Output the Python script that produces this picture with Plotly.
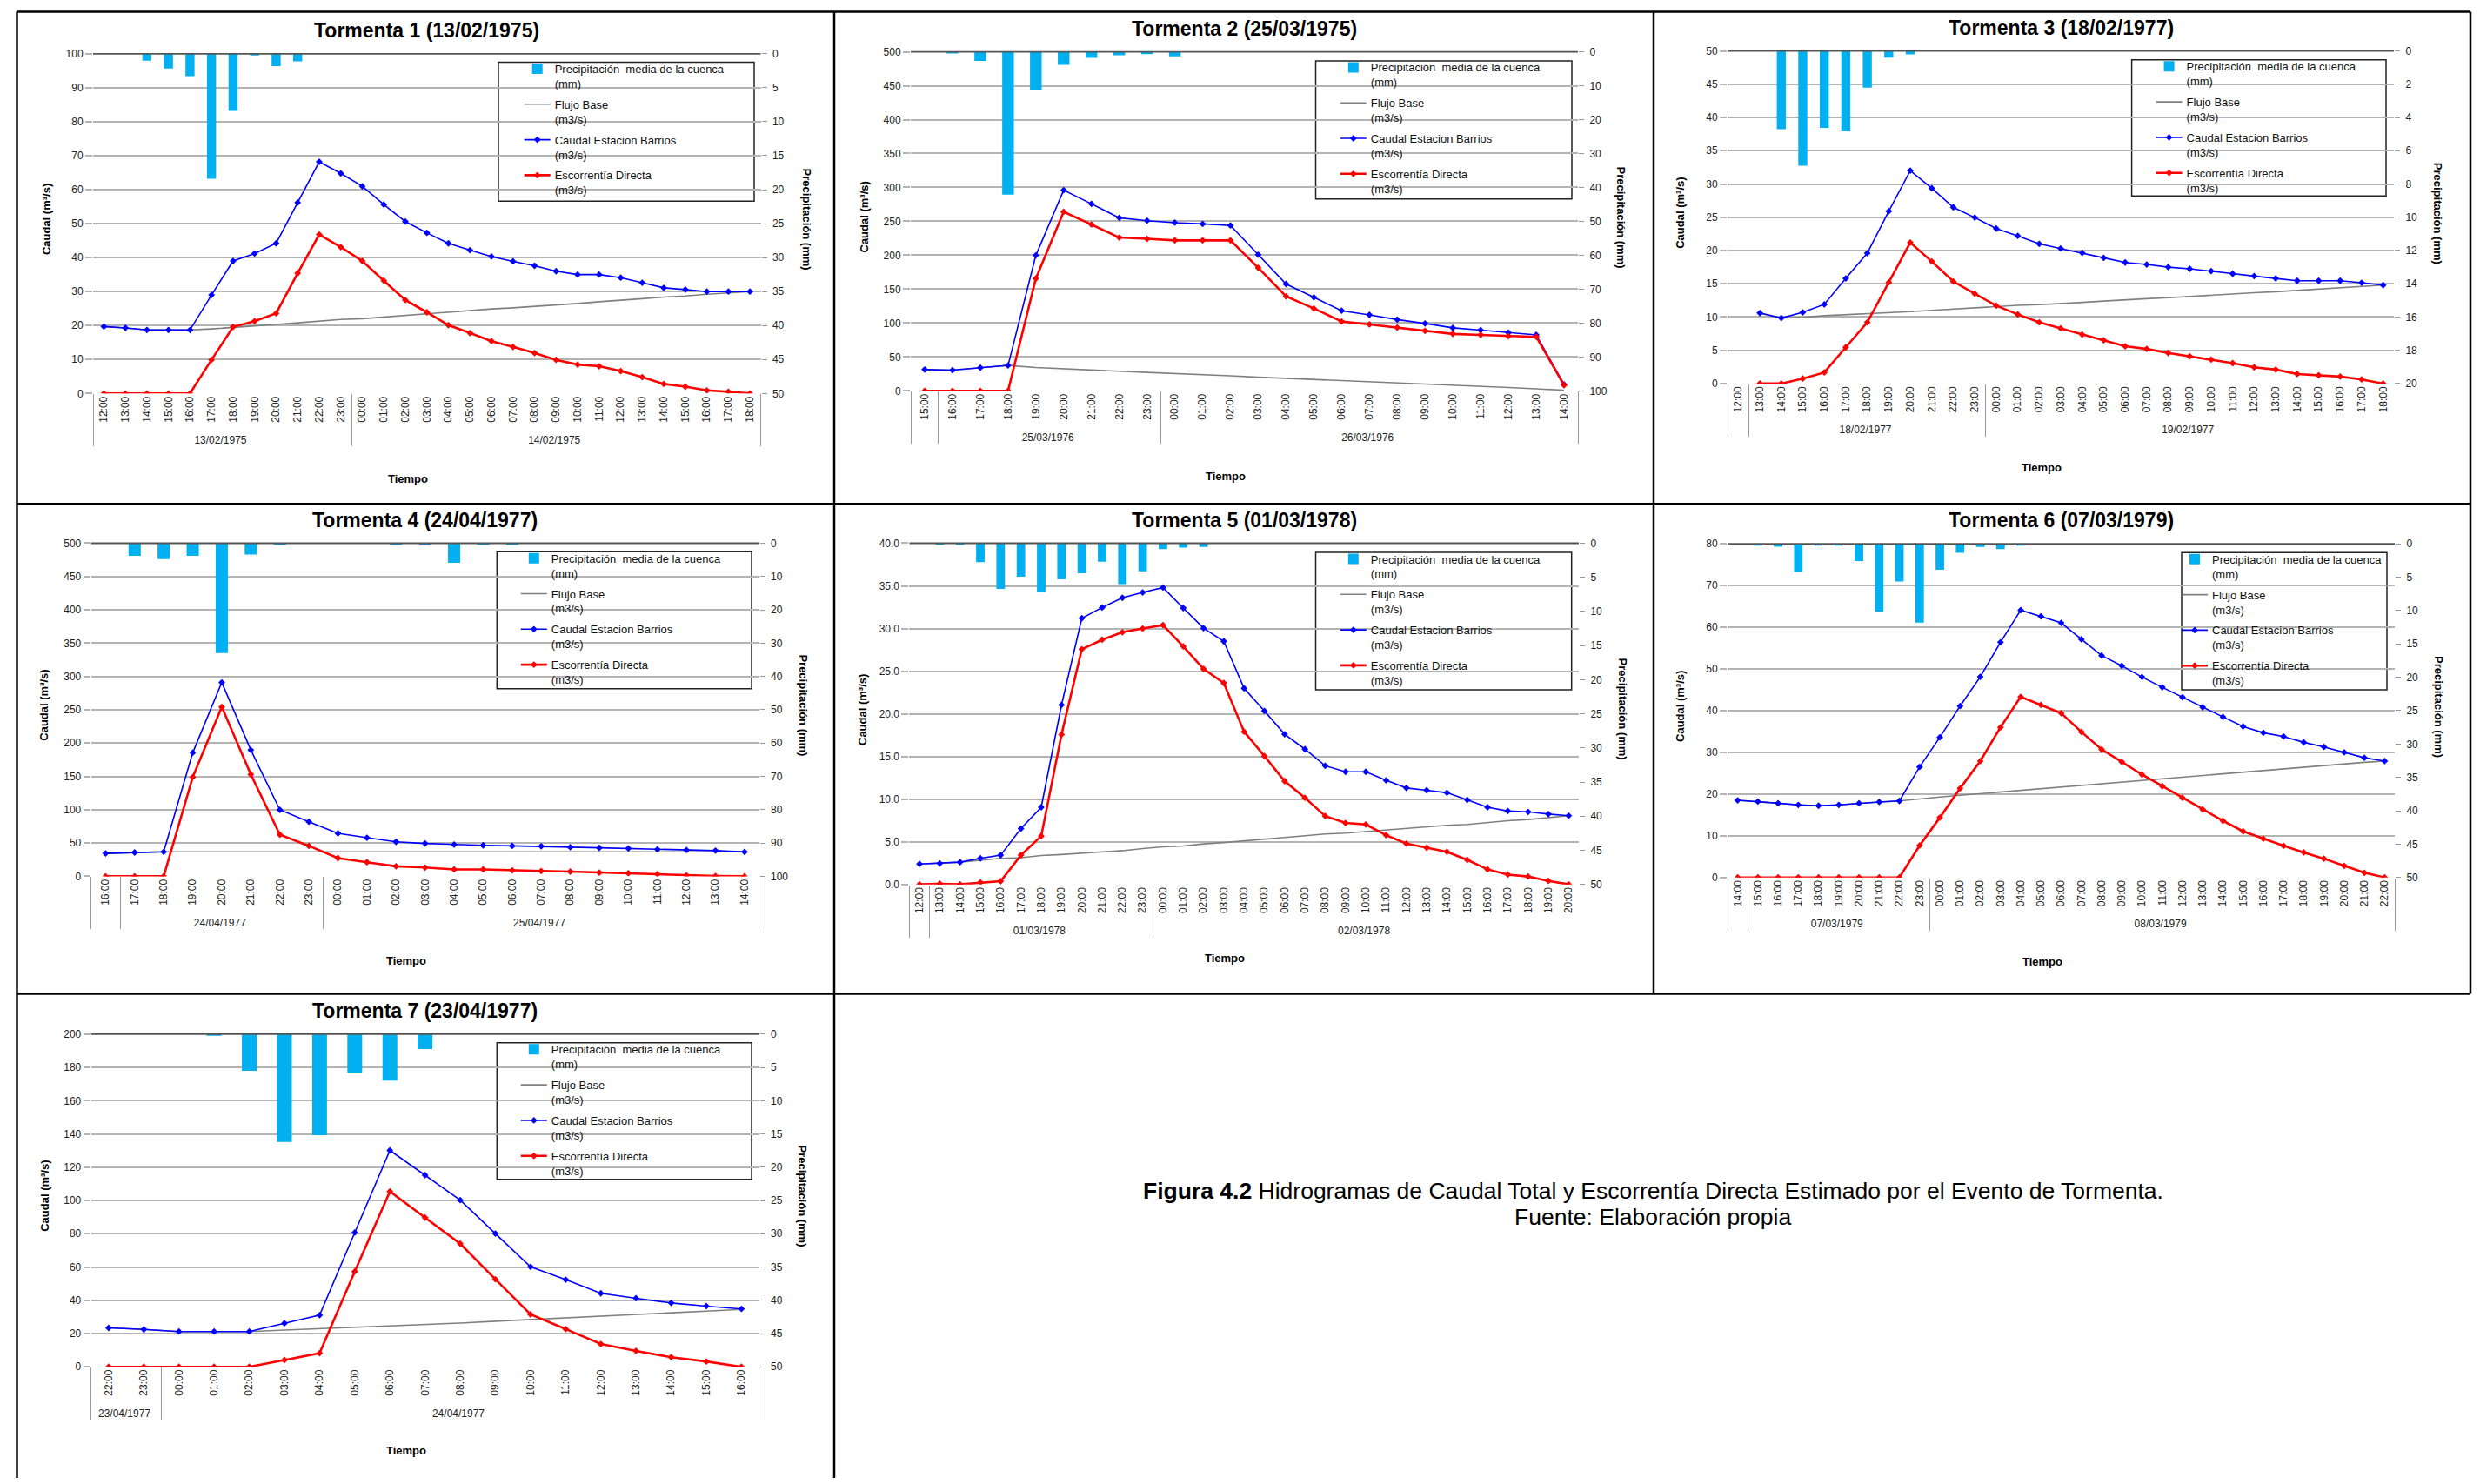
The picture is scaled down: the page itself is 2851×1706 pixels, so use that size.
import plotly.graph_objects as go

W, H = 2851, 1706

# ---------------- data ----------------
HOURS = ["00:00", "01:00", "02:00", "03:00", "04:00", "05:00", "06:00", "07:00",
         "08:00", "09:00", "10:00", "11:00", "12:00", "13:00", "14:00", "15:00",
         "16:00", "17:00", "18:00", "19:00", "20:00", "21:00", "22:00", "23:00"]

LEG_NAMES = ["Precipitación\u00a0 media de la cuenca<br>(mm)", "Flujo Base<br>(m3/s)",
             "Caudal Estacion Barrios<br>(m3/s)", "Escorrentía Directa<br>(m3/s)"]

# Tormenta 1
T1_title = "Tormenta 1 (13/02/1975)"
T1_groups = [("13/02/1975", HOURS[12:24]), ("14/02/1975", HOURS[0:19])]
T1_precip = [0, 0, 1.0, 2.15, 3.3, 18.4, 8.4, 0.2, 1.8, 1.1, 0, 0,
             0, 0, 0, 0, 0, 0, 0, 0, 0, 0, 0, 0, 0, 0, 0, 0, 0, 0, 0]
T1_caudal = [19.7, 19.3, 18.7, 18.7, 18.7, 29.0, 39.0, 41.2, 44.2, 56.2, 68.2, 64.8,
             61.0, 55.6, 50.6, 47.3, 44.2, 42.2, 40.3, 38.9, 37.6, 36.0, 35.0, 35.0,
             34.1, 32.6, 31.1, 30.6, 30.0, 30.0, 30.0]
T1_escor = [0, 0, 0, 0, 0, 9.9, 19.6, 21.3, 23.6, 35.4, 46.8, 43.1,
            39.0, 33.2, 27.5, 23.9, 20.1, 17.8, 15.4, 13.7, 11.9, 9.9, 8.5, 8.0,
            6.6, 4.8, 2.8, 2.0, 0.9, 0.5, 0]
T1_base = [19.7, 19.3, 18.7, 18.7, 18.7, 19.0, 19.4, 19.8, 20.3, 20.8, 21.3, 21.8,
           22.0, 22.5, 23.0, 23.5, 24.0, 24.4, 24.9, 25.2, 25.6, 26.1, 26.5, 27.0,
           27.4, 27.9, 28.4, 28.7, 29.2, 29.6, 30.0]
T1_axes = (100, 10, 50, 5, "")

# Tormenta 2
T2_title = "Tormenta 2 (25/03/1975)"
T2_groups = [(" ", HOURS[15:16]), ("25/03/1976", HOURS[16:24]), ("26/03/1976", HOURS[0:15])]
T2_precip = [0, 0.4, 2.7, 42.1, 11.4, 3.8, 1.8, 1.0, 0.7,
             1.3, 0, 0, 0, 0, 0, 0, 0, 0, 0, 0, 0, 0, 0, 0]
T2_caudal = [31.4, 30.5, 34.2, 37.5, 199.8, 296.0, 275.8, 255.2, 251.0,
             248.1, 246.2, 243.9, 200.8, 157.6, 137.9, 118.2, 112.1, 105.1, 99.4,
             92.9, 89.6, 85.8, 82.6, 9.4]
T2_escor = [0, 0, 0, 0, 165.6, 264.1, 245.3, 226.1, 224.2,
            221.9, 221.9, 221.9, 181.5, 139.3, 121.5, 102.3, 98.0, 93.3, 88.6,
            84.0, 82.6, 80.7, 79.7, 8.4]
T2_base = [31.4, 30.5, 34.2, 37.5, 34.5, 32.4, 30.5, 28.9, 27.2,
           25.8, 24.3, 22.2, 20.2, 18.5, 16.9, 15.5, 13.8, 12.2, 10.6,
           9.0, 6.9, 5.0, 2.9, 1.0]
T2_axes = (500, 50, 100, 10, "")

# Tormenta 3
T3_title = "Tormenta 3 (18/02/1977)"
T3_groups = [(" ", HOURS[12:13]), ("18/02/1977", HOURS[13:24]), ("19/02/1977", HOURS[0:19])]
T3_precip = [0, 0, 4.7, 6.9, 4.63, 4.84, 2.2, 0.4, 0.21, 0, 0, 0,
             0, 0, 0, 0, 0, 0, 0, 0, 0, 0, 0, 0, 0, 0, 0, 0, 0, 0, 0]
T3_caudal = [None, 10.6, 9.85, 10.7, 11.9, 15.8, 19.6, 25.9, 32.0, 29.35, 26.5, 24.95,
             23.3, 22.2, 21.0, 20.3, 19.65, 18.9, 18.2, 17.9, 17.5, 17.25, 16.9, 16.5,
             16.15, 15.8, 15.45, 15.45, 15.45, 15.15, 14.8]
T3_escor = [None, 0, 0, 0.75, 1.67, 5.45, 9.2, 15.2, 21.2, 18.35, 15.35, 13.5,
            11.7, 10.4, 9.2, 8.3, 7.35, 6.5, 5.6, 5.2, 4.6, 4.1, 3.6, 3.06,
            2.44, 2.1, 1.43, 1.24, 1.05, 0.62, 0]
T3_base = [None, None, 9.85, 9.95, 10.2, 10.35, 10.45, 10.65, 10.8, 11.0, 11.2, 11.4,
           11.6, 11.75, 11.85, 12.0, 12.2, 12.4, 12.6, 12.75, 12.9, 13.1, 13.3, 13.45,
           13.65, 13.8, 14.0, 14.15, 14.35, 14.55, 14.8]
T3_axes = (50, 5, 20, 2, "")

# Tormenta 4
T4_title = "Tormenta 4 (24/04/1977)"
T4_groups = [(" ", HOURS[16:17]), ("24/04/1977", HOURS[17:24]), ("25/04/1977", HOURS[0:15])]
T4_precip = [0, 3.8, 4.8, 3.8, 33.0, 3.4, 0.3, 0,
             0, 0, 0.3, 0.65, 5.9, 0.3, 0.3, 0, 0, 0, 0, 0, 0, 0, 0]
T4_caudal = [34.4, 35.8, 36.7, 185.5, 291.0, 189.7, 99.8, 81.9,
             64.5, 57.9, 51.8, 49.4, 47.6, 46.6, 45.7, 45.2, 43.8, 42.8, 41.9, 40.5,
             39.5, 38.6, 36.7]
T4_escor = [0, 0, 0, 148.8, 254.2, 153.0, 62.6, 45.7,
            27.3, 21.2, 15.1, 13.2, 10.4, 10.4, 8.9, 8.0, 7.1, 5.6, 4.7, 3.3,
            1.4, 0.5, 0]
T4_base = [34.4, 35.8, 36.7, 36.7, 36.7, 36.7, 36.7, 36.7,
           36.7, 36.7, 36.7, 36.7, 36.7, 36.7, 36.7, 36.7, 36.7, 36.7, 36.7, 36.7,
           36.7, 36.7, 36.7]
T4_axes = (500, 50, 100, 10, "")

# Tormenta 5
T5_title = "Tormenta 5 (01/03/1978)"
T5_groups = [(" ", HOURS[12:13]), ("01/03/1978", HOURS[13:24]), ("02/03/1978", HOURS[0:21])]
T5_precip = [0, 0.14, 0.14, 2.76, 6.7, 4.9, 7.1, 5.3, 4.4, 2.7, 6.0, 4.1,
             0.87, 0.64, 0.55, 0, 0, 0, 0, 0, 0, 0, 0, 0, 0, 0, 0, 0, 0, 0, 0, 0, 0]
T5_caudal = [2.39, 2.46, 2.6, 3.05, 3.42, 6.54, 9.04, 21.03, 31.2, 32.46, 33.6, 34.23,
             34.8, 32.4, 30.04, 28.5, 22.98, 20.33, 17.6, 15.85, 13.9, 13.2, 13.2,
             12.2, 11.3, 11.03, 10.74, 9.9, 9.04, 8.6, 8.5, 8.24, 8.05]
T5_escor = [0, 0.07, 0, 0.22, 0.37, 3.42, 5.66, 17.57, 27.57, 28.68, 29.56, 30.0,
            30.4, 27.9, 25.26, 23.6, 17.9, 15.04, 12.1, 10.15, 8.0, 7.2, 7.02,
            5.77, 4.78, 4.3, 3.82, 2.87, 1.76, 1.14, 0.92, 0.4, 0]
T5_base = [2.39, 2.46, 2.6, 2.83, 3.05, 3.12, 3.38, 3.5, 3.63, 3.78, 3.95, 4.2,
           4.4, 4.5, 4.75, 4.9, 5.08, 5.3, 5.5, 5.7, 5.9, 6.0, 6.18,
           6.4, 6.52, 6.73, 6.92, 7.03, 7.28, 7.46, 7.6, 7.84, 8.05]
T5_axes = (40, 5, 50, 5, ".1f")

# Tormenta 6
T6_title = "Tormenta 6 (07/03/1979)"
T6_groups = [(" ", HOURS[14:15]), ("07/03/1979", HOURS[15:24]), ("08/03/1979", HOURS[0:23])]
T6_precip = [0, 0.23, 0.42, 4.2, 0.14, 0.23, 2.58, 10.2, 5.64, 11.8,
             3.9, 1.36, 0.47, 0.8, 0.14, 0, 0, 0, 0, 0, 0, 0, 0, 0, 0, 0, 0, 0, 0, 0, 0, 0, 0]
T6_caudal = [18.5, 18.2, 17.8, 17.4, 17.2, 17.4, 17.8, 18.1, 18.35, 26.5,
             33.6, 41.1, 48.1, 56.4, 64.1, 62.6, 61.05, 57.1, 53.2, 50.75, 48.05, 45.6,
             43.2, 40.8, 38.5, 36.2, 34.7, 33.8, 32.4, 31.3, 30.0, 28.7, 27.9]
T6_escor = [0, 0, 0, 0, 0, 0, 0, 0, 0, 7.67,
            14.36, 21.35, 27.9, 36.0, 43.3, 41.35, 39.4, 34.9, 30.7, 27.7, 24.66, 21.9,
            19.1, 16.3, 13.6, 11.05, 9.3, 7.6, 6.0, 4.5, 2.8, 1.13, 0]
T6_base = [18.5, 18.2, 17.8, 17.4, 17.2, 17.4, 17.8, 18.1, 18.35, 18.9,
           19.3, 19.7, 20.1, 20.5, 20.9, 21.3, 21.6, 22.0, 22.4, 22.8, 23.3, 23.7,
           24.1, 24.5, 24.8, 25.2, 25.6, 26.0, 26.4, 26.8, 27.2, 27.6, 27.9]
T6_axes = (80, 10, 50, 5, "")

# Tormenta 7
T7_title = "Tormenta 7 (23/04/1977)"
T7_groups = [("23/04/1977", HOURS[22:24]), ("24/04/1977", HOURS[0:17])]
T7_precip = [0, 0, 0, 0.14, 5.5, 16.2, 15.2, 5.76, 7.0, 2.25,
             0, 0, 0, 0, 0, 0, 0, 0, 0]
T7_caudal = [23.4, 22.5, 21.2, 21.2, 21.2, 26.2, 31.1, 80.7, 130.1, 115.2,
             100.2, 80.1, 60.1, 52.4, 44.2, 41.2, 38.4, 36.5, 34.8]
T7_escor = [0, 0, 0, 0, 0, 4.1, 8.2, 57.3, 105.4, 89.7,
            74.0, 52.6, 31.5, 22.7, 13.7, 9.6, 5.8, 3.2, 0]
T7_base = [23.4, 22.5, 21.2, 21.2, 21.2, 22.1, 22.9, 23.8, 24.7, 25.5,
           26.3, 27.4, 28.5, 29.5, 30.4, 31.4, 32.5, 33.5, 34.5]
T7_axes = (200, 20, 50, 5, "")

CAPTION_BOLD = "Figura 4.2"
CAPTION_1 = " Hidrogramas de Caudal Total y Escorrentía Directa Estimado por el Evento de Tormenta."
CAPTION_2 = "Fuente: Elaboración propia"

STORMS = [
    (T1_title, T1_groups, T1_precip, T1_base, T1_caudal, T1_escor, T1_axes),
    (T2_title, T2_groups, T2_precip, T2_base, T2_caudal, T2_escor, T2_axes),
    (T3_title, T3_groups, T3_precip, T3_base, T3_caudal, T3_escor, T3_axes),
    (T4_title, T4_groups, T4_precip, T4_base, T4_caudal, T4_escor, T4_axes),
    (T5_title, T5_groups, T5_precip, T5_base, T5_caudal, T5_escor, T5_axes),
    (T6_title, T6_groups, T6_precip, T6_base, T6_caudal, T6_escor, T6_axes),
    (T7_title, T7_groups, T7_precip, T7_base, T7_caudal, T7_escor, T7_axes),
]

# ---------------- layout geometry (pixels) ----------------
PLOT_BOX = [  # left, right, top, bottom
    (107, 874.5, 55.3, 449),
    (1047, 1814, 53, 446),
    (1986, 2752, 52, 437.5),
    (104.7, 872.6, 622.6, 1008.7),
    (1045.4, 1815, 622.6, 1018),
    (1986, 2753, 623.3, 1010),
    (104.7, 872.6, 1191.6, 1577.2),
]
LEG_BOX = [
    (573, 867, 65, 226),
    (1512.5, 1807, 63.4, 223.7),
    (2450.6, 2743, 62.3, 220),
    (571.3, 864, 632.4, 791.3),
    (1512.5, 1806.7, 633.2, 792.4),
    (2508, 2744, 633.5, 792.4),
    (571.3, 864, 1201.7, 1359.9),
]
LEG_TXT_OFF = [64.7, 63.3, 63, 62.5, 63.3, 35, 62.5]
TIEMPO_XY = [(469, 548), (1409, 545), (2347, 534.5), (467, 1106.5),
             (1407.7, 1104), (2347.5, 1108), (466.6, 1674.3)]

FONT = "Liberation Sans, Arial, sans-serif"
GRID = "#B4B4B4"


def px(x):
    return x / W


def py(y):
    return 1 - y / H


fig = go.Figure()
annotations = []
shapes = []
layout = {}

for i, (title, groups, precip, base, caudal, escor, axes) in enumerate(STORMS):
    n = i + 1
    qmax, qdt, pmax, pdt, qfmt = axes
    outer, inner = [], []
    for gi, (date, hrs) in enumerate(groups):
        for h in hrs:
            outer.append(date)
            inner.append(h + "\u200b" * gi)
    xcat = [outer, inner]
    N = len(inner)

    xid = "x" if n == 1 else f"x{n}"
    yb = 2 * n - 1
    yo = 2 * n
    ybid = "y" if yb == 1 else f"y{yb}"
    yoid = f"y{yo}"
    legid = "legend" if n == 1 else f"legend{n}"

    l, r, t, b = PLOT_BOX[i]
    dom_x = [px(l), px(r)]
    dom_y = [py(b), py(t)]

    layout["xaxis" if n == 1 else f"xaxis{n}"] = dict(
        type="multicategory", domain=dom_x, anchor=ybid, range=[-0.5, N - 0.5],
        tickangle=-90, tickfont=dict(size=12, color="#222", family=FONT),
        showdividers=True, dividercolor="#9A9A9A", dividerwidth=1.2,
        showgrid=False, ticks="", showline=False, zeroline=False,
    )
    layout["yaxis" if yb == 1 else f"yaxis{yb}"] = dict(
        domain=dom_y, anchor=xid, side="right", range=[pmax, 0], dtick=pdt,
        showgrid=False, zeroline=False, showline=False,
        ticks="outside", ticklen=6, tickcolor="#999", tickwidth=1,
        tickfont=dict(size=12, color="#222", family=FONT), ticklabelstandoff=4,
    )
    layout[f"yaxis{yo}"] = dict(
        overlaying=ybid, anchor=xid, side="left", range=[0, qmax], dtick=qdt,
        tickformat=qfmt, showgrid=True, gridcolor=GRID, gridwidth=1.5,
        zeroline=False, showline=False,
        ticks="outside", ticklen=8, tickcolor=GRID, tickwidth=1.5,
        tickfont=dict(size=12, color="#222", family=FONT),
    )

    fig.add_trace(go.Bar(
        x=xcat, y=precip, xaxis=xid, yaxis=ybid, name=LEG_NAMES[0],
        marker=dict(color="#00B0F0", line=dict(width=0)),
        legend=legid, legendgroup=f"g{n}a",
    ))
    fig.add_trace(go.Scatter(
        x=xcat, y=base, xaxis=xid, yaxis=yoid, name=LEG_NAMES[1], mode="lines",
        line=dict(color="#808080", width=1.6), legend=legid, legendgroup=f"g{n}b",
    ))
    fig.add_trace(go.Scatter(
        x=xcat, y=caudal, xaxis=xid, yaxis=yoid, name=LEG_NAMES[2], mode="lines+markers",
        line=dict(color="#0000FF", width=1.6),
        marker=dict(symbol="diamond", size=6, color="#0000FF"),
        legend=legid, legendgroup=f"g{n}c",
    ))
    fig.add_trace(go.Scatter(
        x=xcat, y=escor, xaxis=xid, yaxis=yoid, name=LEG_NAMES[3], mode="lines+markers",
        line=dict(color="#FF0000", width=2.6),
        marker=dict(symbol="diamond", size=6, color="#FF0000"),
        legend=legid, legendgroup=f"g{n}d",
    ))

    lx0, lx1, ly0, ly1 = LEG_BOX[i]
    layout[legid] = dict(
        x=px(lx0 + LEG_TXT_OFF[i] - 40), y=py(ly0 - 7.5), xanchor="left", yanchor="top",
        bgcolor="rgba(0,0,0,0)", borderwidth=0, font=dict(size=13, color="#111", family=FONT),
        tracegroupgap=4, valign="top", traceorder="grouped", itemwidth=30,
    )
    shapes.append(dict(type="rect", xref="paper", yref="paper",
                       x0=px(lx0), x1=px(lx1), y0=py(ly1), y1=py(ly0),
                       line=dict(color="#222", width=1.5), fillcolor="white", layer="below"))
    # darker top line of the plot area
    shapes.append(dict(type="line", xref=f"{xid} domain", yref=f"{ybid} domain",
                       x0=0, x1=1, y0=1, y1=1, line=dict(color="#555", width=1.8)))

    cy = (t + b) / 2 - 5
    annotations.append(dict(text=f"<b>{title}</b>", x=px((l + r) / 2), y=py(t - 27),
                            xref="paper", yref="paper", showarrow=False,
                            xanchor="center", yanchor="middle",
                            font=dict(size=23, color="#000", family=FONT)))
    annotations.append(dict(text="<b>Caudal (m³/s)</b>", x=px(l - 54), y=py(cy),
                            xref="paper", yref="paper", showarrow=False, textangle=-90,
                            xanchor="center", yanchor="middle",
                            font=dict(size=13, color="#000", family=FONT)))
    annotations.append(dict(text="<b>Precipitación (mm)</b>",
                            x=px(r + (53 if n == 1 else 50)), y=py(cy),
                            xref="paper", yref="paper", showarrow=False, textangle=90,
                            xanchor="center", yanchor="middle",
                            font=dict(size=13, color="#000", family=FONT)))
    tx, ty = TIEMPO_XY[i]
    annotations.append(dict(text="<b>Tiempo</b>", x=px(tx), y=py(ty),
                            xref="paper", yref="paper", showarrow=False,
                            xanchor="center", yanchor="middle",
                            font=dict(size=13, color="#000", family=FONT)))

# caption
annotations.append(dict(text=f"<b>{CAPTION_BOLD}</b>{CAPTION_1}", x=px(1900), y=py(1373),
                        xref="paper", yref="paper", showarrow=False,
                        xanchor="center", yanchor="middle",
                        font=dict(size=26.5, color="#000", family=FONT)))
annotations.append(dict(text=CAPTION_2, x=px(1900), y=py(1403.5),
                        xref="paper", yref="paper", showarrow=False,
                        xanchor="center", yanchor="middle",
                        font=dict(size=26.5, color="#000", family=FONT)))

# cell borders
BORDER = dict(color="#000", width=2.5)
for (x0, y0, x1, y1) in [
    (19.5, 6.5, 2840, 6.5), (19.5, 577, 2840, 577), (19.5, 1145, 2840, 1145),
    (19.5, 6.5, 19.5, 1706), (959, 6.5, 959, 1706), (1901, 6.5, 1901, 1145),
    (2840, 6.5, 2840, 1145),
]:
    shapes.append(dict(type="line", xref="paper", yref="paper",
                       x0=px(x0), x1=px(x1), y0=py(y0), y1=py(y1), line=BORDER))

fig.update_layout(
    width=W, height=H, margin=dict(l=0, r=0, t=0, b=0),
    paper_bgcolor="white", plot_bgcolor="rgba(0,0,0,0)",
    font=dict(family=FONT, color="#000"),
    bargap=0.58, showlegend=True,
    annotations=annotations, shapes=shapes,
    **layout,
)

fig.write_html("out.html", config={"displayModeBar": False},
               post_script="document.body.style.margin='0px';")
